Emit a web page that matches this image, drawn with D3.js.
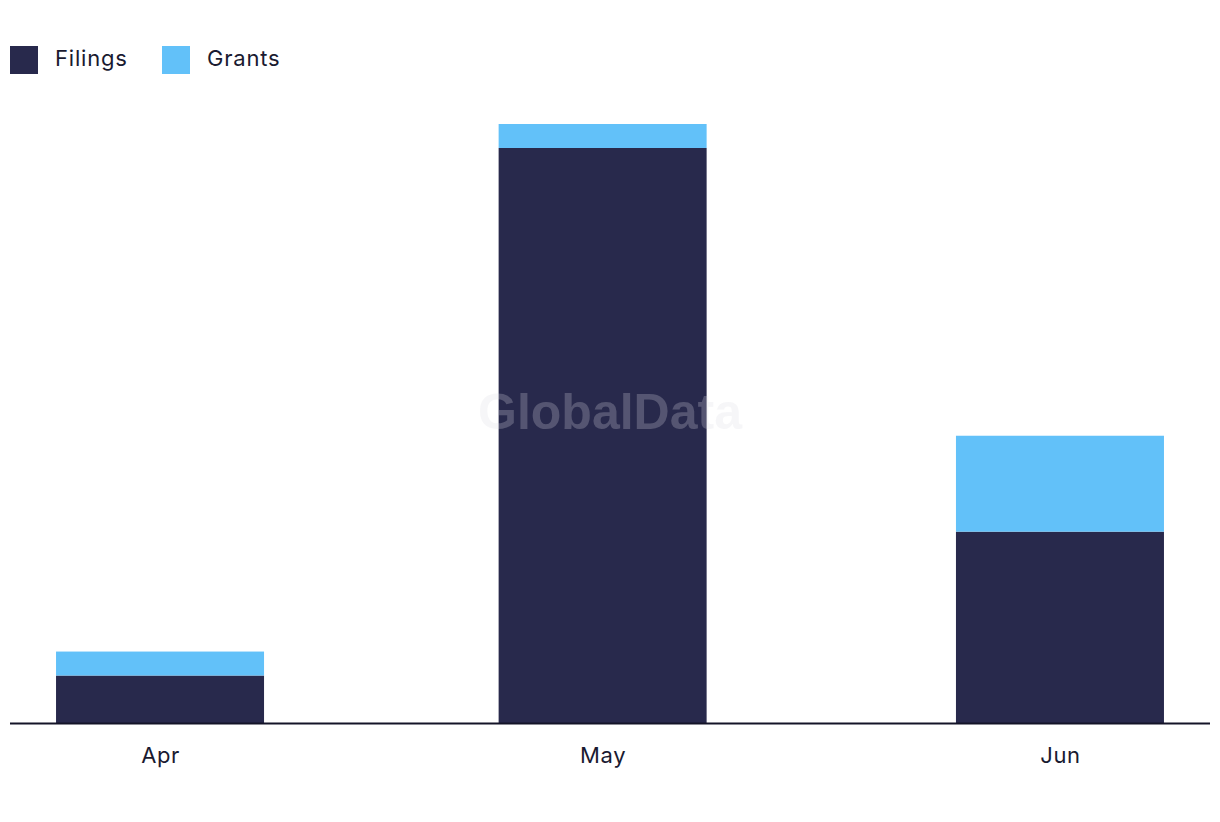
<!DOCTYPE html>
<html><head><meta charset="utf-8">
<script src="https://cdn.jsdelivr.net/npm/d3@7"></script>
<style>body{margin:0;background:#fff;} svg{display:block;font-family:Inter,"Noto Sans",sans-serif;}</style>
</head><body>
<svg id="c" width="1220" height="822"></svg>
<script>
const months = ["2023-04-01","2023-05-01","2023-06-01"];
const monthLabels = ["Apr","May","Jun"];
const filings = [2,24,8];
const grants = [1,1,4];
const seriesNames = ["Filings","Grants"];
const colors = ["#28294c","#62c1f9"];

(function(){
const svg = d3.select("#c");
const leftX=10, rightX=1210, baseY=723.5, topY=124;
const dates = months.map(d=>new Date(d+"T00:00:00Z"));
const day = 864e5, pad = 10.17*day;
const x = d3.scaleUtc().domain([new Date(+dates[0]-pad), new Date(+dates[2]+pad)]).range([leftX,rightX]);
const y = d3.scaleLinear().domain([0,25]).range([baseY,topY]);
const bw = 208;

const rows = dates.map((d,i)=>({date:d, Filings:filings[i], Grants:grants[i]}));
const stack = d3.stack().keys(seriesNames)(rows);

svg.append("g").selectAll("g").data(stack).join("g")
  .attr("fill",(d,i)=>colors[i])
  .selectAll("rect").data(d=>d).join("rect")
  .attr("x",d=>x(d.data.date)-bw/2).attr("width",bw)
  .attr("y",d=>y(d[1])).attr("height",d=>y(d[0])-y(d[1]));

// watermark
svg.append("text").attr("x",610).attr("y",429).attr("text-anchor","middle")
  .attr("font-family","Liberation Sans, Arial, sans-serif").attr("font-weight","bold").attr("font-size",50)
  .attr("fill","#dcdce4").attr("fill-opacity",0.25).text("GlobalData");

// axis
const ax = svg.append("g").attr("transform",`translate(0,${baseY})`)
  .call(d3.axisBottom(x).tickValues(dates).tickFormat((d,i)=>monthLabels[i]).tickSize(0).tickPadding(24));
ax.select(".domain").attr("stroke","#141428").attr("stroke-width",2).attr("d",`M${leftX},0H${rightX}`);
ax.selectAll("text").attr("font-size",22).attr("fill","#1a1a30").attr("font-family","Inter, sans-serif").attr("letter-spacing",0.6);

// legend
const lg = svg.append("g");
const lx=[10,162];
seriesNames.forEach((n,i)=>{
  lg.append("rect").attr("x",lx[i]).attr("y",46).attr("width",28).attr("height",28).attr("fill",colors[i]);
  lg.append("text").attr("x",lx[i]+45).attr("y",66).attr("font-size",22).attr("letter-spacing",0.8).attr("fill","#1a1a30").text(n);
});
})();
</script>
</body></html>
